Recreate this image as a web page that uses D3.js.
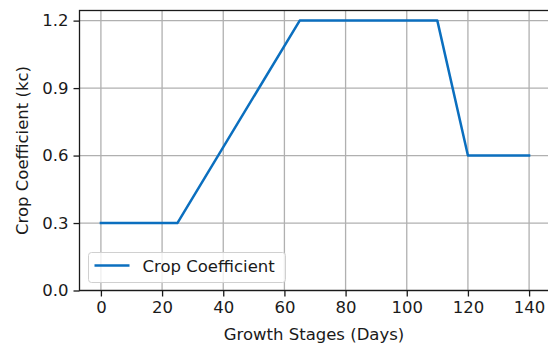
<!DOCTYPE html>
<html>
<head>
<meta charset="utf-8">
<script src="https://cdn.jsdelivr.net/npm/d3@7"></script>
<style>
  html, body { margin: 0; padding: 0; background: #fff; }
  svg { display: block; font-family: "DejaVu Sans", sans-serif; }
</style>
</head>
<body>
<svg id="chart" width="548" height="344"></svg>
<script>
// Crop coefficient (kc) over the growing season
const days = [0, 25, 65, 110, 120, 140];
const kc = [0.3, 0.3, 1.2, 1.2, 0.6, 0.6];
const xTicks = [0, 20, 40, 60, 80, 100, 120, 140];
const yTicks = [0.0, 0.3, 0.6, 0.9, 1.2];
const seriesName = "Crop Coefficient";

const svg = d3.select("#chart");
const margin = { left: 79.5, top: 10.5, right: -2.5, bottom: 53.5 };
const W = 548, H = 344;
const FS = 16.5;

const x = d3.scaleLinear().domain([-7, 147]).range([margin.left, W - margin.right]);
const y = d3.scaleLinear().domain([0, 1.245]).range([H - margin.bottom, margin.top]);

const color = "#0b6fbf";

// grid
const grid = svg.append("g");
grid.selectAll("line.vx").data(xTicks).join("line")
  .attr("x1", d => x(d)).attr("x2", d => x(d))
  .attr("y1", y.range()[0]).attr("y2", y.range()[1])
  .attr("stroke", "#b0b0b0").attr("stroke-width", 1.3);
grid.selectAll("line.hy").data(yTicks).join("line")
  .attr("y1", d => y(d)).attr("y2", d => y(d))
  .attr("x1", x.range()[0]).attr("x2", x.range()[1])
  .attr("stroke", "#b0b0b0").attr("stroke-width", 1.3);

// series line
const pts = days.map((d, i) => [d, kc[i]]);
svg.append("path")
  .datum(pts)
  .attr("fill", "none")
  .attr("stroke", color)
  .attr("stroke-width", 2.5)
  .attr("stroke-linejoin", "round")
  .attr("stroke-linecap", "square")
  .attr("d", d3.line().x(d => x(d[0])).y(d => y(d[1])));

// axes
const xAxis = d3.axisBottom(x).tickValues(xTicks).tickFormat(d3.format("d")).tickSize(6).tickPadding(5);
const yAxis = d3.axisLeft(y).tickValues(yTicks).tickFormat(d3.format(".1f")).tickSize(6).tickPadding(5);

const gx = svg.append("g").attr("transform", `translate(0,${y.range()[0]})`).call(xAxis);
const gy = svg.append("g").attr("transform", `translate(${x.range()[0]},0)`).call(yAxis);
[gx, gy].forEach(g => {
  g.select(".domain").remove();
  g.selectAll("text").attr("font-size", FS).attr("fill", "#1a1a1a").attr("font-family", "DejaVu Sans, sans-serif");
  g.selectAll("line").attr("stroke", "#1a1a1a").attr("stroke-width", 1.3);
});

// frame
svg.append("rect")
  .attr("x", x.range()[0]).attr("y", y.range()[1])
  .attr("width", x.range()[1] - x.range()[0])
  .attr("height", y.range()[0] - y.range()[1])
  .attr("fill", "none").attr("stroke", "#1a1a1a").attr("stroke-width", 1.3);

// axis titles
svg.append("text")
  .attr("x", 314).attr("y", 340)
  .attr("text-anchor", "middle").attr("font-size", FS).attr("fill", "#1a1a1a")
  .text("Growth Stages (Days)");
svg.append("text")
  .attr("transform", `translate(28,${(y.range()[0] + y.range()[1]) / 2}) rotate(-90)`)
  .attr("text-anchor", "middle").attr("font-size", FS).attr("fill", "#1a1a1a")
  .text("Crop Coefficient (kc)");

// legend
const lg = svg.append("g").attr("transform", "translate(88.5,252.5)");
lg.append("rect").attr("width", 197).attr("height", 30).attr("rx", 3)
  .attr("fill", "rgba(255,255,255,0.8)").attr("stroke", "#d0d0d0");
lg.append("line").attr("x1", 6).attr("x2", 41).attr("y1", 13).attr("y2", 13)
  .attr("stroke", color).attr("stroke-width", 2.5);
lg.append("text").attr("x", 54).attr("y", 19.5).attr("font-size", FS).attr("fill", "#1a1a1a")
  .text(seriesName);
</script>
</body>
</html>
